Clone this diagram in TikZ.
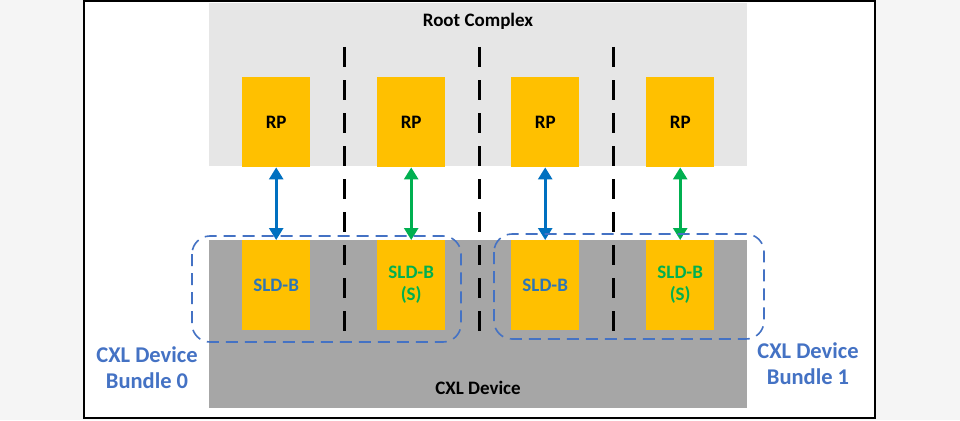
\documentclass[tikz,border=0pt]{standalone}
\usepackage{fontspec}
\setmainfont{Carlito}
\usetikzlibrary{arrows.meta}
\definecolor{outerbg}{HTML}{F5F5F5}
\definecolor{rcgray}{HTML}{E6E6E6}
\definecolor{devgray}{HTML}{A6A6A6}
\definecolor{gold}{HTML}{FFC000}
\definecolor{linkblue}{HTML}{0070C0}
\definecolor{linkgreen}{HTML}{00B050}
\definecolor{bundleblue}{HTML}{4472C4}
\definecolor{sldblue}{HTML}{2E75B6}
\tikzset{
  px/.style={x=1pt,y=-1pt},
  boxfont/.style={font=\bfseries\fontsize{19}{22}\selectfont},
  portbox/.style={fill=gold, draw=none, minimum width=68pt, minimum height=90pt, inner sep=0pt, boxfont, align=center},
  link/.style={line width=2.6pt, {Triangle[length=12pt,width=14pt]}-{Triangle[length=12pt,width=14pt]}},
  divider/.style={line width=3pt, dash pattern=on 20pt off 13pt},
  bundle/.style={draw=bundleblue, line width=1.6pt, dash pattern=on 12pt off 7pt, rounded corners=18pt},
  bundlelabel/.style={text=bundleblue, font=\bfseries\fontsize{22.5}{26}\selectfont, align=center},
}
\begin{document}
\begin{tikzpicture}[px]
\fill[outerbg] (0,0) rectangle (960,420);
\useasboundingbox (0,0) rectangle (960,420);
\fill[white] (84,1) rectangle (875,418);
\draw[line width=1.2pt] (84,1) rectangle (875,418);
% root complex
\fill[rcgray] (209,3) rectangle (747,166);
\node[boxfont] (rc) at (478,21) {Root Complex};
% device
\fill[devgray] (209,240) rectangle (747,408);
\node[boxfont] (dev) at (478,388) {CXL Device};
% RPs
\node[portbox, anchor=north west] (rp1) at (242,77) {RP};
\node[portbox, anchor=north west] (rp2) at (377,77) {RP};
\node[portbox, anchor=north west] (rp3) at (511,77) {RP};
\node[portbox, anchor=north west] (rp4) at (646,77) {RP};
% SLDs
\node[portbox, anchor=north west, text=sldblue] (s1) at (242,240) {SLD-B};
\node[portbox, anchor=north west, text=linkgreen] (s2) at (377,240) {SLD-B\\(S)};
\node[portbox, anchor=north west, text=sldblue] (s3) at (511,240) {SLD-B};
\node[portbox, anchor=north west, text=linkgreen] (s4) at (646,240) {SLD-B\\(S)};
% dividers
\coordinate (d1t) at (344,47); \coordinate (d1b) at (344,333);
\coordinate (d2t) at (479,47); \coordinate (d2b) at (479,333);
\coordinate (d3t) at (613,47); \coordinate (d3b) at (613,333);
\draw[divider] (d1t) -- (d1b);
\draw[divider] (d2t) -- (d2b);
\draw[divider] (d3t) -- (d3b);
% links
\draw[link, linkblue] (rp1.south) -- (s1.north);
\draw[link, linkgreen] (rp2.south) -- (s2.north);
\draw[link, linkblue] (rp3.south) -- (s3.north);
\draw[link, linkgreen] (rp4.south) -- (s4.north);
% bundles
\draw[bundle] (192,236) rectangle (461,342);
\draw[bundle] (494,234) rectangle (764,339);
\node[bundlelabel] (b0) at (147,368) {CXL Device\\Bundle 0};
\node[bundlelabel] (b1) at (808,364) {CXL Device\\Bundle 1};
\end{tikzpicture}
\end{document}
